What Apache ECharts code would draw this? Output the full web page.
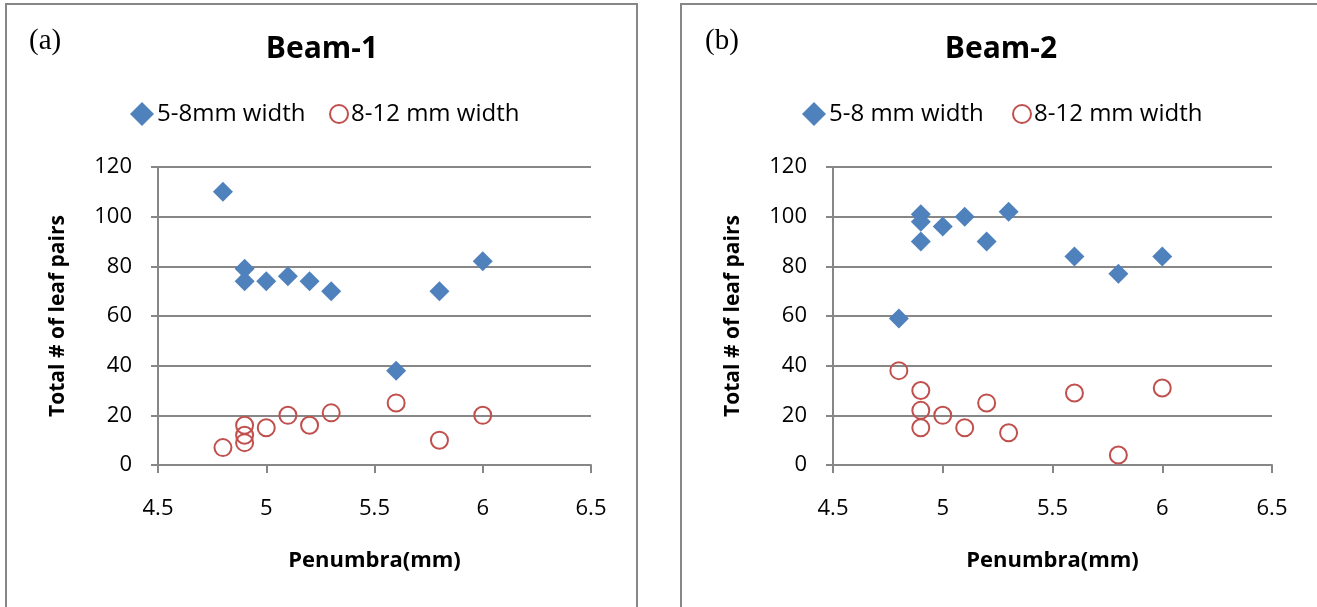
<!DOCTYPE html>
<html>
<head>
<meta charset="utf-8">
<script src="https://cdn.jsdelivr.net/npm/echarts@6/dist/echarts.min.js"></script>
<style>
  html, body { margin: 0; padding: 0; background: #fff; }
  #chart { width: 1317px; height: 607px; }
</style>
</head>
<body>
<div id="chart"></div>
<script>
// Penumbra (mm) vs. total number of leaf pairs, two beams
const xTicks = ['4.5', '5', '5.5', '6', '6.5'];
const yTicks = [0, 20, 40, 60, 80, 100, 120];

// Beam-1
const beam1NarrowX = [4.8, 4.9, 4.9, 5.0, 5.1, 5.2, 5.3, 5.6, 5.8, 6.0];
const beam1NarrowY = [110, 79, 74, 74, 76, 74, 70, 38, 70, 82];
const beam1WideX = [4.8, 4.9, 4.9, 4.9, 5.0, 5.1, 5.2, 5.3, 5.6, 5.8, 6.0];
const beam1WideY = [7, 16, 12, 9, 15, 20, 16, 21, 25, 10, 20];

// Beam-2
const beam2NarrowX = [4.8, 4.9, 4.9, 4.9, 5.0, 5.1, 5.2, 5.3, 5.6, 5.8, 6.0];
const beam2NarrowY = [59, 101, 98, 90, 96, 100, 90, 102, 84, 77, 84];
const beam2WideX = [4.8, 4.9, 4.9, 4.9, 5.0, 5.1, 5.2, 5.3, 5.6, 5.8, 6.0];
const beam2WideY = [38, 30, 22, 15, 20, 15, 25, 13, 29, 4, 31];

const pairs = (xs, ys) => xs.map((x, i) => [x, ys[i]]);

const FONT = '"Open Sans", "Liberation Sans", sans-serif';
const GRID_COLOR = '#878787';
const BLUE = '#4F81BD';
const RED = '#C0504D';

const xMin = Number(xTicks[0]);
const xMax = Number(xTicks[xTicks.length - 1]);

function xAxisFor(gridIndex) {
  return {
    type: 'value', gridIndex, min: xMin, max: xMax, interval: 0.5,
    name: 'Penumbra(mm)', nameLocation: 'middle', nameGap: 85,
    nameTextStyle: { fontFamily: FONT, fontWeight: 'bold', fontSize: 22, color: '#000' },
    axisLine: { show: true, onZero: false, lineStyle: { color: GRID_COLOR, width: 2 } },
    axisTick: { show: true, length: 8, lineStyle: { color: GRID_COLOR, width: 2 } },
    axisLabel: { margin: 33, fontFamily: FONT, fontSize: 22, color: '#000',
      formatter: v => String(v) },
    splitLine: { show: false }
  };
}
function yAxisFor(gridIndex) {
  return {
    type: 'value', gridIndex, min: yTicks[0], max: yTicks[yTicks.length - 1], interval: 20,
    name: 'Total # of leaf pairs', nameLocation: 'middle', nameGap: 89,
    nameTextStyle: { fontFamily: FONT, fontWeight: 'bold', fontSize: 21, color: '#000' },
    axisLine: { show: true, lineStyle: { color: GRID_COLOR, width: 2 } },
    axisTick: { show: true, length: 7, lineStyle: { color: GRID_COLOR, width: 2 } },
    axisLabel: { margin: 26, fontFamily: FONT, fontSize: 22, color: '#000' },
    splitLine: { show: true, lineStyle: { color: GRID_COLOR, width: 2 } }
  };
}
function narrowSeries(name, idx, data) {
  return {
    type: 'scatter', name, xAxisIndex: idx, yAxisIndex: idx, data,
    symbol: 'diamond', symbolSize: 20,
    itemStyle: { color: BLUE, borderWidth: 0, opacity: 1 }
  };
}
function wideSeries(name, idx, data) {
  return {
    type: 'scatter', name, xAxisIndex: idx, yAxisIndex: idx, data,
    symbol: 'circle', symbolSize: 17,
    itemStyle: { color: 'rgba(255,255,255,0)', borderColor: RED, borderWidth: 2, opacity: 1 }
  };
}
// one legend entry per component so each marker can have its own size
function legendEntry(left, name, size) {
  return {
    left, top: 97, orient: 'horizontal',
    itemWidth: size, itemHeight: size,
    textStyle: { fontFamily: FONT, fontSize: 24, color: '#000', padding: [0, 0, 0, -2] },
    data: [name]
  };
}

const chart = echarts.init(document.getElementById('chart'), null, { renderer: 'canvas' });
chart.setOption({
  backgroundColor: '#fff',
  animation: false,
  grid: [
    { left: 158, top: 167, width: 433, height: 298 },
    { left: 833, top: 167, width: 439, height: 298 }
  ],
  xAxis: [xAxisFor(0), xAxisFor(1)],
  yAxis: [yAxisFor(0), yAxisFor(1)],
  legend: [
    legendEntry(125, '5-8mm width', 24),
    legendEntry(324, '8-12 mm width ', 18),
    legendEntry(797, '5-8 mm width', 24),
    legendEntry(1007, '8-12 mm width', 18)
  ],
  series: [
    narrowSeries('5-8mm width', 0, pairs(beam1NarrowX, beam1NarrowY)),
    wideSeries('8-12 mm width ', 0, pairs(beam1WideX, beam1WideY)),
    narrowSeries('5-8 mm width', 1, pairs(beam2NarrowX, beam2NarrowY)),
    wideSeries('8-12 mm width', 1, pairs(beam2WideX, beam2WideY))
  ],
  graphic: [
    // panel frames
    { type: 'rect', silent: true, shape: { x: 6, y: 4, width: 631, height: 700 },
      style: { fill: 'none', stroke: GRID_COLOR, lineWidth: 2 } },
    { type: 'rect', silent: true, shape: { x: 681, y: 4, width: 700, height: 700 },
      style: { fill: 'none', stroke: GRID_COLOR, lineWidth: 2 } },
    // panel titles
    { type: 'text', x: 322, y: 49, style: { text: 'Beam-1', fontFamily: FONT, fontWeight: 'bold',
      fontSize: 30, fill: '#000', textAlign: 'center', textVerticalAlign: 'middle' } },
    { type: 'text', x: 1001, y: 49, style: { text: 'Beam-2', fontFamily: FONT, fontWeight: 'bold',
      fontSize: 30, fill: '#000', textAlign: 'center', textVerticalAlign: 'middle' } },
    // panel tags
    { type: 'text', x: 29, y: 41, style: { text: '(a)', fontFamily: '"Liberation Serif", serif',
      fontSize: 29, fill: '#000', textAlign: 'left', textVerticalAlign: 'middle' } },
    { type: 'text', x: 705, y: 41, style: { text: '(b)', fontFamily: '"Liberation Serif", serif',
      fontSize: 29, fill: '#000', textAlign: 'left', textVerticalAlign: 'middle' } }
  ]
});
</script>
</body>
</html>
